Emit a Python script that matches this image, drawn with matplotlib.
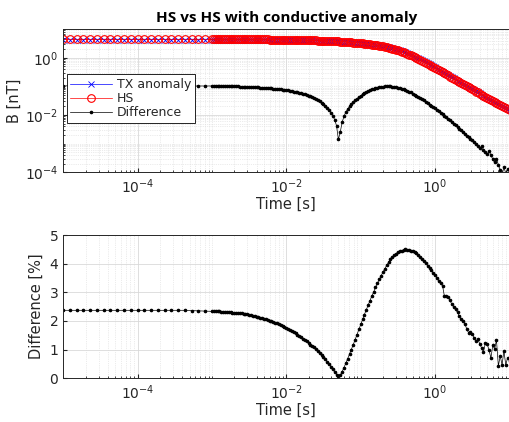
import matplotlib
matplotlib.use("Agg")
import matplotlib.pyplot as plt
from matplotlib.ticker import LogLocator, NullFormatter, FixedLocator
import numpy as np

# sample times [s]: sparse early gates, then 40 gates per decade from 1 ms on
t_early = [1.00e-5, 1.23e-5, 1.52e-5, 1.87e-5, 2.31e-5, 2.85e-5, 3.51e-5, 4.33e-5,
           5.34e-5, 6.58e-5, 8.11e-5, 1.00e-4, 1.23e-4, 1.52e-4, 1.87e-4, 2.31e-4,
           2.85e-4, 3.51e-4, 4.33e-4, 5.34e-4, 6.58e-4, 8.11e-4, 1.00e-3]
gate_mantissa = [1.06, 1.12, 1.19, 1.26, 1.33, 1.41, 1.50, 1.58, 1.68, 1.78,
                 1.88, 2.00, 2.11, 2.24, 2.37, 2.51, 2.66, 2.82, 2.99, 3.16,
                 3.35, 3.55, 3.76, 3.98, 4.22, 4.47, 4.73, 5.01, 5.31, 5.62,
                 5.96, 6.31, 6.68, 7.08, 7.50, 7.94, 8.41, 8.91, 9.44, 10.0]
gate_decades = [1e-3, 1e-2, 1e-1, 1e0]
t_late = [m * d for d in gate_decades for m in gate_mantissa]

# halfspace response [nT]
hs_early = [4.40] * 23
hs_late = [4.40, 4.40, 4.40, 4.40, 4.40, 4.40, 4.40, 4.40, 4.40, 4.40,
           4.39, 4.39, 4.39, 4.39, 4.39, 4.39, 4.38, 4.38, 4.38, 4.38,
           4.37, 4.37, 4.37, 4.37, 4.36, 4.36, 4.35, 4.35, 4.34, 4.34,
           4.33, 4.33, 4.32, 4.31, 4.30, 4.30, 4.29, 4.28, 4.27, 4.26,
           4.25, 4.24, 4.23, 4.22, 4.20, 4.19, 4.17, 4.16, 4.14, 4.13,
           4.11, 4.09, 4.07, 4.05, 4.03, 4.01, 3.99, 3.97, 3.94, 3.92,
           3.89, 3.87, 3.84, 3.82, 3.79, 3.76, 3.73, 3.70, 3.66, 3.63,
           3.59, 3.56, 3.52, 3.48, 3.44, 3.40, 3.35, 3.31, 3.26, 3.22,
           3.17, 3.12, 3.06, 3.01, 2.95, 2.89, 2.82, 2.76, 2.69, 2.62,
           2.54, 2.47, 2.39, 2.31, 2.22, 2.14, 2.05, 1.97, 1.88, 1.80,
           1.71, 1.62, 1.53, 1.45, 1.36, 1.28, 1.20, 1.12, 1.04, 0.97,
           0.90, 0.84, 0.78, 0.72, 0.66, 0.61, 0.56, 0.52, 0.48, 0.44,
           0.40, 0.37, 0.34, 0.31, 0.285, 0.26, 0.24, 0.22, 0.20, 0.184,
           0.168, 0.154, 0.141, 0.129, 0.118, 0.108, 0.100, 0.092, 0.085, 0.078,
           0.072, 0.066, 0.061, 0.056, 0.051, 0.047, 0.043, 0.040, 0.037, 0.034,
           0.031, 0.029, 0.026, 0.024, 0.022, 0.020, 0.0185, 0.017, 0.0157, 0.0145]

# |TX anomaly - HS| [nT]
diff_early = [0.104] * 18 + [0.104, 0.103, 0.103, 0.103, 0.103]
diff_late = [0.103, 0.102, 0.102, 0.102, 0.102, 0.101, 0.101, 0.101, 0.100, 0.100,
             0.100, 0.100, 0.099, 0.099, 0.098, 0.098, 0.097, 0.097, 0.096, 0.096,
             0.095, 0.095, 0.094, 0.093, 0.092, 0.091, 0.090, 0.089, 0.088, 0.087,
             0.086, 0.085, 0.084, 0.083, 0.081, 0.080, 0.078, 0.077, 0.075, 0.074,
             0.072, 0.070, 0.068, 0.066, 0.064, 0.062, 0.060, 0.057, 0.055, 0.052,
             0.050, 0.047, 0.045, 0.042, 0.039, 0.036, 0.033, 0.030, 0.027, 0.024,
             0.021, 0.018, 0.015, 0.012, 0.0094, 0.0068, 0.0042, 0.0014, 0.0025, 0.0055,
             0.0090, 0.0125, 0.016, 0.020, 0.024, 0.028, 0.032, 0.037, 0.042, 0.047,
             0.053, 0.059, 0.064, 0.070, 0.075, 0.080, 0.084, 0.088, 0.091, 0.094,
             0.096, 0.098, 0.099, 0.100, 0.100, 0.099, 0.098, 0.096, 0.093, 0.090,
             0.087, 0.083, 0.079, 0.074, 0.070, 0.065, 0.061, 0.056, 0.051, 0.047,
             0.043, 0.039, 0.035, 0.032, 0.029, 0.026, 0.023, 0.021, 0.019, 0.017,
             0.015, 0.0135, 0.012, 0.0105, 0.0093, 0.0082, 0.0072, 0.0064, 0.0057, 0.0050,
             0.0044, 0.0038, 0.0033, 0.0029, 0.0025, 0.0022, 0.0019, 0.0017, 0.0015, 0.0013,
             0.00115, 0.0010, 0.00082, 0.00068, 0.00080, 0.00062, 0.00050, 0.00042, 0.00055, 0.00040,
             0.00028, 0.00022, 0.00030, 0.00018, 0.00012, 0.00008, 0.00015, 0.00009, 0.00013, 0.00006]

# difference in percent
pct_early = [2.37] * 18 + [2.37, 2.36, 2.35, 2.34, 2.33]
pct_late = [2.33, 2.33, 2.33, 2.33, 2.32, 2.32, 2.31, 2.31, 2.30, 2.30,
            2.29, 2.29, 2.28, 2.28, 2.27, 2.26, 2.25, 2.24, 2.23, 2.21,
            2.20, 2.18, 2.17, 2.15, 2.13, 2.11, 2.09, 2.07, 2.05, 2.03,
            2.01, 1.98, 1.96, 1.93, 1.91, 1.88, 1.85, 1.82, 1.79, 1.76,
            1.72, 1.68, 1.64, 1.60, 1.56, 1.52, 1.48, 1.43, 1.38, 1.33,
            1.28, 1.22, 1.17, 1.12, 1.08, 1.03, 0.96, 0.88, 0.81, 0.73,
            0.66, 0.58, 0.49, 0.40, 0.31, 0.21, 0.12, 0.02, 0.10, 0.22,
            0.37, 0.52, 0.68, 0.84, 1.00, 1.17, 1.34, 1.52, 1.70, 1.88,
            2.05, 2.22, 2.39, 2.55, 2.71, 2.87, 3.02, 3.17, 3.31, 3.45,
            3.58, 3.71, 3.83, 3.95, 4.05, 4.15, 4.23, 4.30, 4.35, 4.40,
            4.43, 4.46, 4.48, 4.50, 4.49, 4.48, 4.46, 4.44, 4.40, 4.36,
            4.30, 4.24, 4.16, 4.08, 4.01, 3.93, 3.85, 3.77, 3.69, 3.60,
            3.50, 3.38, 3.31, 3.22, 2.88, 2.86, 2.84, 2.72, 2.58, 2.48,
            2.40, 2.30, 2.16, 2.06, 1.98, 1.90, 1.72, 1.58, 1.62, 1.55,
            1.40, 1.28, 1.36, 1.20, 1.05, 0.92, 1.22, 1.19, 0.98, 0.70,
            1.15, 1.02, 1.33, 0.42, 0.78, 0.46, 0.95, 0.46, 0.72, 0.60]

zero_crossing_s = 0.05

t = np.array(t_early + t_late)
hs = np.array(hs_early + hs_late)
diff = np.array(diff_early + diff_late)
pct = np.array(pct_early + pct_late)
# anomaly response: below HS before the sign change, above it afterwards
tx = np.where(t < zero_crossing_s, hs - diff, hs + diff)

plt.rcParams['font.family'] = ['DejaVu Sans']
txt = '#262626'

fig = plt.figure(figsize=(5.09, 4.22), dpi=100)
ax1 = fig.add_axes([0.124, 0.592, 0.877, 0.339])
ax2 = fig.add_axes([0.124, 0.104, 0.877, 0.339])

def style(ax):
    ax.set_xscale('log')
    ax.set_xlim(1e-5, 10)
    ax.xaxis.set_major_locator(FixedLocator([1e-4, 1e-2, 1e0]))
    ax.xaxis.set_minor_locator(LogLocator(base=10, subs=np.arange(1, 10), numticks=20))
    ax.xaxis.set_minor_formatter(NullFormatter())
    ax.grid(True, which='major', color='#d9d9d9', lw=0.6)
    ax.grid(True, which='minor', color='#d9d9d9', lw=0.5, ls=':')
    ax.tick_params(which='both', direction='in', colors=txt, labelsize=10,
                   top=False, right=False)
    ax.tick_params(which='major', length=3)
    ax.tick_params(which='minor', length=1.5)
    for s in ax.spines.values():
        s.set_color(txt)
        s.set_linewidth(0.7)
    ax.set_xlabel('Time [s]', fontsize=10.5, color=txt, labelpad=1)
    ax.set_axisbelow(True)

# top: field values
ax1.plot(t, tx, color='blue', lw=0.5, marker='x', ms=4, mew=0.6, label='TX anomaly')
ax1.plot(t, hs, color='red', lw=0.5, marker='o', ms=5.5, mfc='none', mew=0.8, label='HS')
ax1.plot(t, diff, color='black', lw=0.5, marker='.', ms=3.2, label='Difference')
style(ax1)
ax1.set_yscale('log')
ax1.set_ylim(1e-4, 1e1)
ax1.yaxis.set_major_locator(FixedLocator([1e-4, 1e-2, 1e0]))
ax1.yaxis.set_minor_locator(LogLocator(base=10, subs=np.arange(1, 10), numticks=20))
ax1.yaxis.set_minor_formatter(NullFormatter())
ax1.set_ylabel('B [nT]', fontsize=10.5, color=txt, labelpad=2)
ax1.set_title('HS vs HS with conductive anomaly', fontsize=11, fontweight='bold',
              family=['Open Sans', 'DejaVu Sans'], color='black', pad=5)
leg = ax1.legend(loc='upper left', bbox_to_anchor=(0.008, 0.685), fontsize=9,
                 handlelength=3.3, fancybox=False, framealpha=1, borderpad=0.3,
                 labelspacing=0.1, handletextpad=0.4, borderaxespad=0)
leg.get_frame().set_edgecolor('black')
leg.get_frame().set_linewidth(0.6)
for tx_ in leg.get_texts():
    tx_.set_color(txt)

# bottom: relative difference
ax2.plot(t, pct, color='black', lw=0.5, marker='.', ms=3.2)
style(ax2)
ax2.set_ylim(0, 5)
ax2.set_yticks([0, 1, 2, 3, 4, 5])
ax2.set_ylabel('Difference [%]', fontsize=10.5, color=txt, labelpad=4)

fig.savefig('out.png', dpi=100)
